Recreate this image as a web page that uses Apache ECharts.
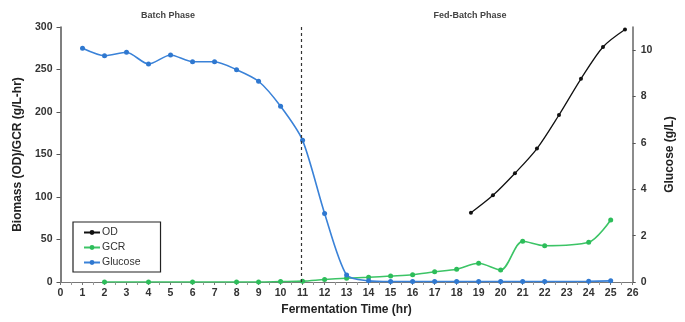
<!DOCTYPE html>
<html><head><meta charset="utf-8">
<script src="https://cdn.jsdelivr.net/npm/echarts@6/dist/echarts.min.js"></script>
<style>html,body{margin:0;padding:0;background:#fff}#c{width:685px;height:322px}</style>
</head><body><div id="c"></div>
<script>
const glucoseX = [1,2,3,4,5,6,7,8,9,10,11,12,13,14,15,16,17,18,19,20,21,22,24,25];
const glucoseY = [10.08,9.76,9.91,9.40,9.79,9.50,9.50,9.16,8.66,7.58,6.11,2.96,0.30,0.05,0.02,0.02,0.02,0.02,0.02,0.02,0.02,0.02,0.03,0.05];
const gcrX = [2,4,6,8,9,10,11,12,13,14,15,16,17,18,19,20,21,22,24,25];
const gcrY = [0,0,0,0,0,0.5,1,3,4.5,5.5,7,8.6,12,15,22,14,48,42.7,46.7,73];
const odX = [18.65,19.65,20.65,21.65,22.65,23.65,24.65,25.65];
const odY = [81.5,102,128,157,196.5,239,276.5,297];
const phaseBoundary = 10.92;
const leftTicks = [0,50,100,150,200,250,300];
const rightTicks = [0,2,4,6,8,10];

const zip = (xs, ys) => xs.map((x,i)=>[x, ys[i]]);
const font = 'Liberation Sans, Arial, sans-serif';
const chart = echarts.init(document.getElementById('c'));
chart.setOption({
  animation:false,
  grid:{left:60.5, right:52.3, top:27, bottom:40},
  legend:{
    orient:'vertical', left:73, top:222, data:['OD','GCR','Glucose'],
    borderColor:'#222', borderWidth:1.2, padding:[5,20,4,10], itemGap:4,
    itemWidth:16, itemHeight:6,
    textStyle:{fontFamily:font, fontSize:10.5, color:'#333', padding:[0,0,0,-3]}
  },
  xAxis:{
    type:'value', min:0, max:26, interval:1,
    name:'Fermentation Time (hr)', nameLocation:'middle', nameGap:22,
    nameTextStyle:{fontFamily:font, fontSize:12, fontWeight:'bold', color:'#222'},
    axisLine:{lineStyle:{color:'#777', width:1.2}},
    axisTick:{show:true, inside:false, length:3, lineStyle:{color:'#777'}},
    minorTick:{show:true, splitNumber:2, length:3, lineStyle:{color:'#999'}},
    axisLabel:{fontFamily:font, fontSize:10.5, fontWeight:'bold', color:'#333', margin:6},
    splitLine:{show:false}
  },
  yAxis:[{
    type:'value', min:0, max:300, interval:50,
    name:'Biomass (OD)/GCR (g/L-hr)', nameLocation:'middle', nameGap:36, nameRotate:90,
    nameTextStyle:{fontFamily:font, fontSize:12, fontWeight:'bold', color:'#222'},
    axisLine:{show:true, lineStyle:{color:'#555', width:1.5}},
    axisTick:{show:true, length:4, lineStyle:{color:'#555'}},
    axisLabel:{fontFamily:font, fontSize:10.5, fontWeight:'bold', color:'#333', margin:8},
    splitLine:{show:false}
  },{
    type:'value', min:0, max:11, position:'right',
    name:'Glucose (g/L)', nameLocation:'middle', nameGap:30, nameRotate:90,
    nameTextStyle:{fontFamily:font, fontSize:12, fontWeight:'bold', color:'#222', verticalAlign:'top'},
    axisLine:{show:true, lineStyle:{color:'#666', width:1.5}},
    axisTick:{show:true, customValues:rightTicks, length:3, lineStyle:{color:'#555'}},
    axisLabel:{customValues:rightTicks, fontFamily:font, fontSize:10.5, fontWeight:'bold', color:'#333', margin:8},
    splitLine:{show:false}
  }],
  graphic:[
    {type:'text', style:{text:'Batch Phase', x:168, y:16, fontFamily:font, fontSize:9, fontWeight:'bold', fill:'#444', align:'center', verticalAlign:'middle'}},
    {type:'text', style:{text:'Fed-Batch Phase', x:470, y:16, fontFamily:font, fontSize:9, fontWeight:'bold', fill:'#444', align:'center', verticalAlign:'middle'}}
  ],
  series:[
    {name:'OD', type:'line', yAxisIndex:0, data:zip(odX,odY), smooth:0.3,
     symbol:'circle', symbolSize:4, itemStyle:{color:'#111'}, lineStyle:{color:'#111', width:1.3}},
    {name:'GCR', type:'line', yAxisIndex:0, data:zip(gcrX,gcrY), smooth:0.3,
     symbol:'circle', symbolSize:5, itemStyle:{color:'#2dbd5a'}, lineStyle:{color:'#3cc466', width:1.6}},
    {name:'Glucose', type:'line', yAxisIndex:1, data:zip(glucoseX,glucoseY), smooth:0.25,
     symbol:'circle', symbolSize:5, itemStyle:{color:'#2f78d0'}, lineStyle:{color:'#3a82d8', width:1.6},
     markLine:{silent:true, symbol:'none', label:{show:false},
       lineStyle:{type:[3,3], color:'#333', width:1.2},
       data:[{xAxis:phaseBoundary}]}}
  ]
});
</script></body></html>
